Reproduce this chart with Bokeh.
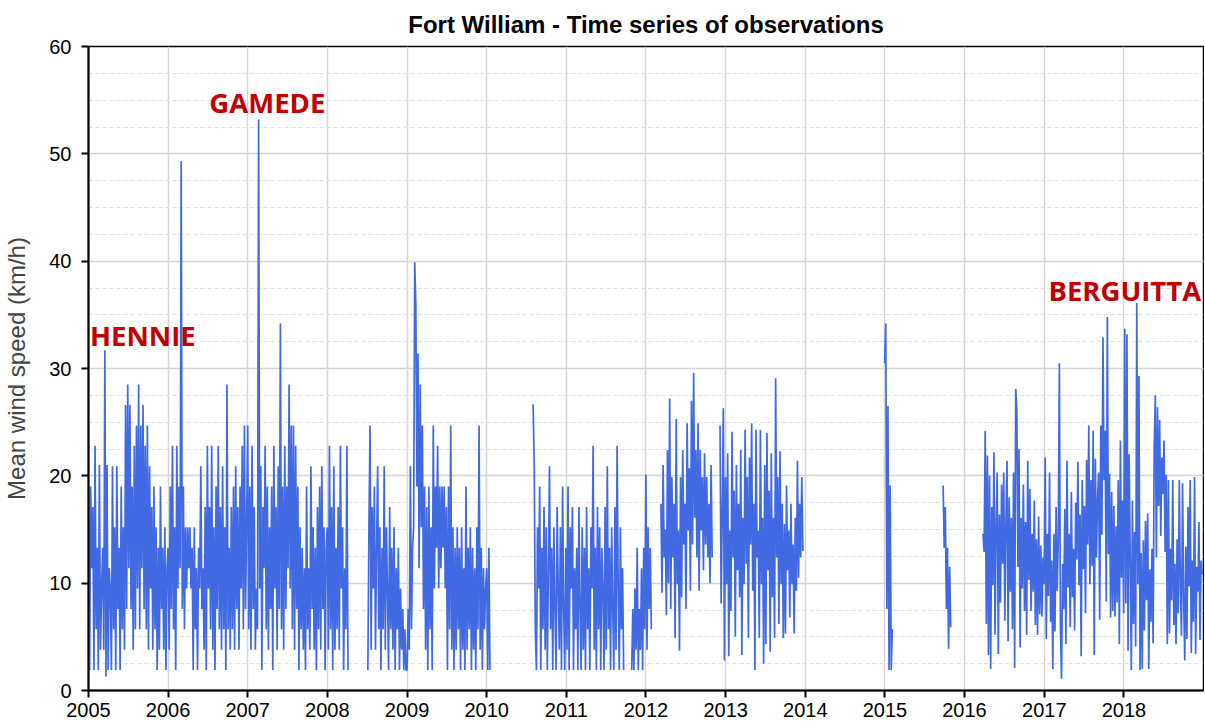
import pandas as pd
from bokeh.plotting import figure
from bokeh.models import (FixedTicker, SingleIntervalTicker, Label, Range1d,
                          DatetimeTickFormatter)
from bokeh.embed import file_html
from bokeh.resources import INLINE

STEP = "5D"  # observations sampled every 5 days

# ---- Segment A: 2005-01-01 .. 2008-04 ----
wind_2005 = [19, 1.9, 19, 11.4, 17.1, 1.9,
             22.8, 5.7, 13.3, 1.9, 21, 3.8,
             9.5, 13.3, 3.8, 31.7, 1.3, 21,
             1.9, 11.4, 9.5, 1.9, 20.9, 5.7,
             15.2, 1.9, 20.9, 7.6, 13.3, 1.9,
             19, 5.7, 15.2, 3.8, 26.6, 7.6,
             28.5, 11.4, 26.6, 7.6, 19, 3.8,
             22.8, 5.7, 24.7, 9.5, 28.5, 5.7,
             24.7, 11.4, 26.6, 7.6, 22.8, 5.7,
             24.7, 3.8, 20.9, 9.5, 17.1, 3.8,
             19, 5.7, 15.2, 1.9, 13.3, 3.8,
             19, 7.6, 13.3, 3.8, 15.2, 1.9, 11.4]
wind_2006 = [13.3, 3.8, 19, 7.6, 22.8, 5.7,
             15.2, 1.9, 22.8, 9.5, 19, 11.4,
             49.3, 7.6, 19, 5.7, 15.2, 9.5,
             15.2, 11.4, 15.2, 9.5, 13.3, 1.9,
             15.2, 5.7, 11.4, 1.9, 13.3, 9.5,
             20.9, 7.6, 11.4, 3.8, 17.1, 1.9,
             22.8, 9.5, 17.1, 5.7, 22.8, 3.8,
             15.2, 1.9, 19, 7.6, 22.8, 5.7,
             17.1, 3.8, 20.9, 5.7, 15.2, 1.9,
             28.5, 5.7, 13.3, 3.8, 17.1, 5.7,
             19, 3.8, 20.9, 7.6, 17.1, 3.8,
             19, 9.5, 22.8, 5.7, 24.7, 7.6, 15.2]
wind_2007 = [24.7, 5.7, 19, 3.8, 22.8, 7.6,
             17.1, 3.8, 9.5, 5.7, 53.2, 9.5,
             20.9, 1.9, 17.1, 11.4, 22.8, 5.7,
             19, 3.8, 15.2, 7.6, 19, 1.9,
             22.8, 9.5, 17.1, 3.8, 20.9, 7.6,
             34.2, 5.7, 19, 3.8, 22.8, 7.6,
             19, 11.4, 28.5, 9.5, 24.7, 5.7,
             24.7, 3.8, 22.8, 7.6, 19, 1.9,
             15.2, 5.7, 13.3, 3.8, 11.4, 1.9,
             19, 5.7, 11.4, 3.8, 20.9, 7.6,
             15.2, 3.8, 13.3, 1.9, 17.1, 5.7,
             19, 3.8, 20.9, 7.6, 15.2, 1.9, 13.3]
wind_2008a = [15.2, 3.8, 22.8, 5.7, 17.1, 1.9, 20.9, 3.8, 13.3, 5.7,
              17.1, 3.8, 22.8, 9.5, 15.2, 1.9, 11.4, 5.7, 22.8, 1.9]

# ---- Segment B: 2008-07 .. 2010-01 ----
wind_2008b = [1.9, 15.2, 24.7, 3.8, 17.1, 9.5,
              19, 3.8, 13.3, 20.9, 5.7, 15.2,
              1.9, 13.3, 5.7, 20.9, 3.8, 15.2,
              9.5, 1.9, 17.1, 5.7, 13.3, 3.8,
              15.2, 1.9, 11.4, 5.7, 13.3, 1.9,
              9.5, 3.8, 7.6, 1.9, 5.7, 1.9]
wind_2009 = [1.9, 7.6, 3.8, 20.9, 5.7, 13.3,
             15.2, 39.9, 36, 19, 31.4, 11.4,
             28.5, 15.2, 24.7, 7.6, 19, 3.8,
             17.1, 1.9, 19, 5.7, 15.2, 1.9,
             24.7, 9.5, 19, 13.3, 22.8, 9.5,
             19, 11.4, 19, 13.3, 19, 9.5,
             17.1, 1.9, 19, 5.7, 24.7, 3.8,
             15.2, 1.9, 13.3, 3.8, 15.2, 5.7,
             13.3, 1.9, 15.2, 3.8, 11.4, 1.9,
             19, 3.8, 13.3, 5.7, 15.2, 1.9,
             13.3, 3.8, 11.4, 1.9, 15.2, 5.7,
             24.7, 3.8, 13.3, 1.9, 11.4, 5.7, 9.5]
wind_2010a = [11.4, 1.9, 13.3, 1.9]

# ---- Segment C: 2010-07 .. 2011-09 ----
wind_2010b = [26.6, 26.6, 20.9, 5.7, 1.9, 15.2, 9.5, 19, 1.9, 13.3,
              5.7, 17.1, 3.8, 15.2, 1.9, 11.4, 20.9, 5.7, 13.3, 1.9,
              15.2, 7.6, 1.9, 17.1, 9.5, 3.8, 15.2, 1.9, 19, 7.6, 1.9]
wind_2011a = [13.3, 3.8, 19, 1.9, 15.2, 9.5,
              17.1, 1.9, 11.4, 5.7, 13.3, 1.9,
              17.1, 7.6, 1.9, 15.2, 3.8, 13.3,
              1.9, 17.1, 5.7, 11.4, 1.9, 15.2,
              9.5, 22.8, 3.8, 13.3, 1.9, 17.1,
              5.7, 15.2, 1.9, 13.3, 9.5, 1.9,
              17.1, 3.8, 20.9, 5.7, 13.3, 1.9,
              15.2, 7.6, 1.9, 17.1, 3.8, 22.8,
              9.5, 1.9, 15.2, 5.7, 11.4, 1.9]

# ---- Segment D: 2011-10 .. 2012-01 ----
wind_2011b = [1.9, 7.6, 1.9, 9.5, 3.8, 13.3, 1.9, 7.6, 3.8, 11.4,
              1.9, 13.3, 5.7, 20.1, 3.8, 15.2, 7.6, 13.3, 5.7]

# ---- Segment E: 2012-03 .. 2012-11 ----
wind_2012a = [17.4, 9.1, 21, 12.4, 15, 7,
              22.4, 10, 27.2, 7.6, 19.9, 12.4,
              17.4, 4.9, 25.3, 9.9, 14.9, 3.7,
              19.9, 8.7, 22.4, 13.6, 17.4, 7.6,
              24.9, 14.9, 20.7, 9.3, 27, 13.6,
              29.6, 16.1, 22.4, 12.4, 24.9, 9.3,
              22.4, 14.9, 19.9, 11.2, 22.1, 13.6,
              19.9, 12.4, 17.4, 10, 21, 12.4]

# ---- Segment F: 2012-12 .. 2013-12 ----
wind_2012b = [24.7, 8.1, 16.1, 26.3, 2.8]
wind_2013 = [19.9, 9.9, 22.1, 3.2, 14.9, 7.4,
             24.1, 12.4, 18.6, 5, 21, 11.2,
             17.4, 8.7, 22.4, 3.3, 16.1, 9.9,
             24.3, 11.8, 19.9, 4.9, 21.7, 13.6,
             24.9, 9.3, 17.4, 1.9, 24.3, 12.4,
             14.9, 4.9, 24.3, 9.9, 16.1, 2.5,
             21, 4.3, 24, 11.2, 18.6, 3.6,
             22.1, 8.7, 16.1, 4.9, 29.1, 12.4,
             19.9, 6.2, 22.3, 9.9, 17.4, 4.9,
             15.5, 5.3, 19.1, 11.2, 14.9, 6.8,
             17.4, 9.9, 13.6, 5.3, 16.1, 9.3,
             21.4, 10.5, 17.4, 12.4, 19.9, 13]

# ---- Short records in 2015 ----
wind_2015a = [30.5, 34.2, 7.6, 26.5, 1.9, 19.1, 1.9, 5.7]
wind_2015b = [19.1, 13.3, 17.1, 7.6, 13.3, 3.9, 11.5, 5.9]

# ---- Segment G: 2016-03 .. 2018-12 ----
wind_2016 = [14.6, 12.9, 24.2, 6.2, 21.9, 3.3, 20, 2, 17.1, 9.8,
             22.2, 5.2, 15.5, 20.3, 3.4, 16.4, 8.2, 19.2, 11.8,
             20.3, 6.5, 15.5, 21.4, 4.6, 18, 9.2, 16.1, 5.7, 20.3, 2.1, 28.1,
             26.1, 11.5, 22.5, 4, 16.1, 9.5, 19.2, 7.4, 15.7, 5.2,
             21.4, 10.3, 18.8, 7.4, 14.6, 9.2, 17.7, 6.1, 14.1, 5.2, 16.2, 7.1,
             13.5, 6.9, 12.4, 9.9]
wind_2017 = [21.7, 4.8, 14.6, 8.8, 20.3, 6.4, 12.1, 2, 14.6, 5.5,
             17.1, 9.3, 13.9, 30.5, 5.8,
             1.1, 11.8, 7.6, 16.9, 4.3, 21.4, 9.6, 14.6, 5.9, 18.5, 8.7, 13.2,
             5.6, 17.5, 12.2, 21.3, 9.8, 16.4, 3.2, 19.6, 11.3, 17.2, 7.2,
             21.5, 13.6, 24.7, 9.9, 19.6, 11.6, 24.2,
             3.3, 21.6, 12.4, 17.8, 20.3, 6.6, 24.7, 14.5, 32.9, 19.6, 24.2, 8.3,
             34.8, 12.7, 20.2, 6.8, 18.5, 7.4, 17.2, 6.9, 15.3, 8.2,
             19.6, 4.3, 23.3, 10.5, 17.7, 7.2]
wind_2018 = [33.7, 8.1, 33.2,
             3.7, 22, 12.4, 1.9, 17.7, 6.2, 14.8, 4.1, 36.1, 9.9, 29.3, 1.9, 12.8,
             2, 14, 5.6, 15.8, 8.4, 16.5, 2, 11.3, 6.4, 13.2, 4.4, 22.6,
             27.5, 12.4, 26.4, 17.2, 25.2, 14.4, 21.7, 18.3, 23.3, 12.9, 20.1, 4.3,
             19.6, 5.3, 13.2, 8.4, 19.6, 6.1, 11.8, 4.3, 14.1, 7.2, 19.6, 9.4,
             5.1, 19.3, 8.7, 2.8, 13.4, 4.8, 17.1, 9.7, 19.6, 3.5, 12.1, 6.4,
             19.9, 3.4, 11.5, 9.2, 15.7, 4.7, 12.1, 10.8]

segments = [
    ("2005-01-01", wind_2005 + wind_2006 + wind_2007 + wind_2008a),
    ("2008-07-05", wind_2008b + wind_2009 + wind_2010a),
    ("2010-07-28", wind_2010b + wind_2011a),
    ("2011-10-28", wind_2011b),
    ("2012-03-10", wind_2012a),
    ("2012-12-06", wind_2012b + wind_2013),
    ("2014-12-31", wind_2015a),
    ("2015-09-25", wind_2015b),
    ("2016-03-26", wind_2016 + wind_2017 + wind_2018),
]

tick_years = list(range(2005, 2019))
storm_names = ["HENNIE", "GAMEDE", "BERGUITTA"]
storm_dates = ["2005-01-08", "2007-04-01", "2018-01-05"]
storm_levels = [33.1, 54.8, 37.3]
storm_aligns = ["left", "center", "center"]

FONT = "Liberation Sans"

p = figure(width=1204, height=725, x_axis_type="datetime",
           x_range=Range1d(pd.Timestamp("2005-01-01"), pd.Timestamp("2019-01-01")),
           y_range=Range1d(0, 60),
           output_backend="svg", toolbar_location=None,
           title="Fort William - Time series of observations",
           min_border_left=88, min_border_right=1, min_border_top=46,
           min_border_bottom=35)

p.title.align = "center"
p.title.text_font = FONT
p.title.text_font_size = "24px"
p.title.text_font_style = "bold"
p.title.text_color = "black"
p.title.standoff = 17

for start, vals in segments:
    xs = pd.date_range(start, periods=len(vals), freq=STEP)
    p.line(xs, vals, line_color="#4169E1", line_width=1.7)

# axes
p.xaxis.ticker = FixedTicker(ticks=[pd.Timestamp(f"{y}-01-01").value / 1e6 for y in tick_years],
                             minor_ticks=[])
p.xaxis.formatter = DatetimeTickFormatter(years="%Y", months="%Y", days="%Y",
                                          hours="%Y", minutes="%Y", seconds="%Y")
p.yaxis.ticker = SingleIntervalTicker(interval=10, num_minor_ticks=4)
p.yaxis.axis_label = "Mean wind speed (km/h)"
p.yaxis.axis_label_text_font = FONT
p.yaxis.axis_label_text_font_size = "24px"
p.yaxis.axis_label_text_font_style = "normal"
p.yaxis.axis_label_standoff = 16

for ax in (p.xaxis, p.yaxis):
    ax.axis_line_color = "black"
    ax.axis_line_width = 2
    ax.major_tick_line_color = "black"
    ax.major_tick_line_width = 2
    ax.major_tick_out = 7
    ax.major_tick_in = 0
    ax.minor_tick_line_color = None
    ax.major_label_text_font = FONT
    ax.major_label_text_font_size = "20px"
    ax.major_label_text_color = "black"
p.xaxis.major_label_standoff = 5
p.yaxis.major_label_standoff = 10

# grid
p.xgrid.grid_line_color = "#d4d4d4"
p.xgrid.grid_line_width = 1.5
p.ygrid.grid_line_color = "#d4d4d4"
p.ygrid.grid_line_width = 1.5
p.ygrid.minor_grid_line_color = "#dedede"
p.ygrid.minor_grid_line_dash = "4 3"
p.ygrid.minor_grid_line_width = 1

p.outline_line_color = "black"
p.outline_line_width = 1.5
p.background_fill_color = "white"
p.border_fill_color = "white"

for name, d, lvl, al in zip(storm_names, storm_dates, storm_levels, storm_aligns):
    p.add_layout(Label(x=pd.Timestamp(d), y=lvl, text=name,
                       text_align=al, text_baseline="middle",
                       text_font="Open Sans", text_font_style="bold",
                       text_font_size="27.5px", text_color="#C00000"))

open("out.html", "w").write(file_html(p, INLINE))
